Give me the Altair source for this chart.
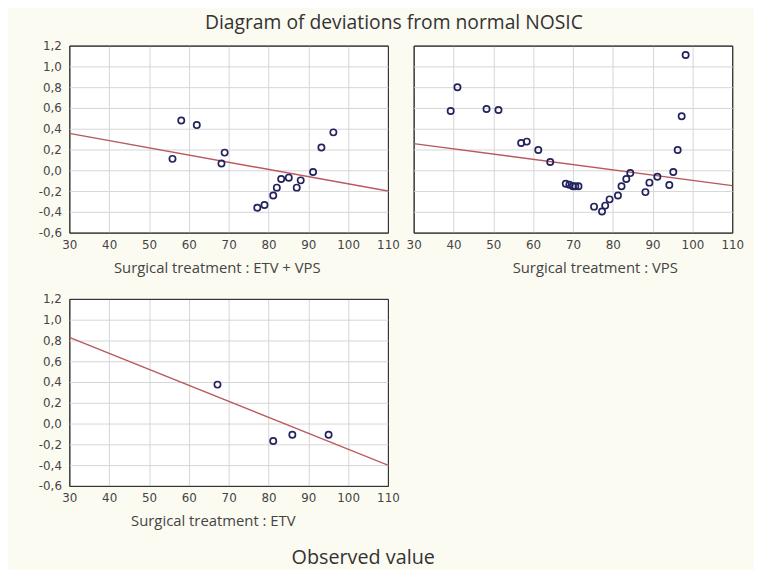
import altair as alt
import pandas as pd

# ---- data ----
line_x = [30, 110]

etv_vps_x = [55.9, 58.1, 62.0, 68.2, 69.0, 77.2, 79.0, 81.2, 82.1, 83.2, 85.1, 87.1, 88.1, 91.2, 93.3, 96.3]
etv_vps_y = [0.11, 0.48, 0.435, 0.066, 0.17, -0.36, -0.335, -0.243, -0.167, -0.084, -0.071, -0.167, -0.097, -0.017, 0.219, 0.365]
etv_vps_line_y = [0.355, -0.20]

vps_x = [39.3, 41.0, 48.3, 51.3, 57.0, 58.4, 61.3, 64.3, 68.2, 69.1, 70.0, 70.6, 71.4, 75.3, 77.3,
         78.1, 79.2, 81.3, 82.2, 83.4, 84.4, 88.2, 89.2, 91.2, 94.2, 95.2, 96.3, 97.3, 98.3]
vps_y = [0.57, 0.80, 0.59, 0.58, 0.263, 0.276, 0.196, 0.079, -0.13, -0.14, -0.154, -0.154, -0.154, -0.35, -0.396,
         -0.34, -0.28, -0.243, -0.154, -0.084, -0.027, -0.21, -0.119, -0.062, -0.141, -0.017, 0.196, 0.52, 1.11]
vps_line_y = [0.257, -0.148]

etv_x = [67.2, 81.2, 86.0, 95.1]
etv_y = [0.375, -0.168, -0.108, -0.108]
etv_line_y = [0.83, -0.40]

x_ticks = [30, 40, 50, 60, 70, 80, 90, 100, 110]
y_ticks = [-0.6, -0.4, -0.2, 0.0, 0.2, 0.4, 0.6, 0.8, 1.0, 1.2]

main_title = "Diagram of deviations from normal NOSIC"
bottom_title = "Observed value"

LABEL_FONT = "DejaVu Sans"
TITLE_FONT = "Open Sans"
PW, PH = 322, 189
GRID = "#d6d6d6"
FRAME = "#333333"


def panel(px, py, ly, title, title_x, show_y=True, extra=None):
    pts = pd.DataFrame({"x": px, "y": py})
    ln = pd.DataFrame({"x": line_x, "y": ly})
    xs = alt.Scale(domain=[30, 110], nice=False, zero=False)
    ys = alt.Scale(domain=[-0.6, 1.2], nice=False, zero=False)
    xaxis = alt.Axis(values=x_ticks, title=title, titleX=title_x, ticks=False,
                     labelPadding=7, titlePadding=10, labelFont=LABEL_FONT, labelFontSize=12,
                     labelColor="#444", titleFont=TITLE_FONT, titleFontSize=15,
                     titleFontWeight="normal", titleColor="#444",
                     gridColor={"condition": {"test": "datum.value <= 30 || datum.value >= 110",
                                              "value": FRAME}, "value": GRID},
                     domain=False, labelFlush=False, labelOverlap=False)
    yaxis = alt.Axis(values=y_ticks, format=".1f", title=None, labels=show_y, ticks=False,
                     labelPadding=8, labelFont=LABEL_FONT, labelFontSize=12, labelColor="#444",
                     gridColor={"condition": {"test": "datum.value <= -0.59 || datum.value >= 1.19",
                                              "value": FRAME}, "value": GRID},
                     domain=False, labelFlush=False, labelOverlap=False)
    x_enc = alt.X("x:Q", scale=xs, axis=xaxis)
    y_enc = alt.Y("y:Q", scale=ys, axis=yaxis)
    line = alt.Chart(ln).mark_line(color="#b8595c", strokeWidth=1.4, clip=True).encode(
        x=x_enc, y=y_enc
    )
    points = alt.Chart(pts).mark_point(shape="circle", filled=False, size=40,
                                       color="#22225e", strokeWidth=1.7, opacity=1).encode(
        x=x_enc, y=y_enc
    )
    layers = [line, points]
    if extra is not None:
        layers.append(extra)
    return alt.layer(*layers).properties(
        width=PW, height=PH, view=alt.ViewBackground(fill="white", stroke=FRAME, strokeWidth=1)
    )


observed = alt.Chart(pd.DataFrame({"t": [bottom_title]})).mark_text(
    font=TITLE_FONT, fontSize=20, color="#333"
).encode(text="t:N", x=alt.value(297), y=alt.value(262))

tl = panel(etv_vps_x, etv_vps_y, etv_vps_line_y, "Surgical treatment : ETV + VPS", 149)
tr = panel(vps_x, vps_y, vps_line_y, "Surgical treatment : VPS", 183, show_y=False)
bl = panel(etv_x, etv_y, etv_line_y, "Surgical treatment : ETV", 145, extra=observed)

chart = alt.concat(tl, tr, bl, columns=2, spacing=alt.RowColnumber(row=67, column=26),
                   bounds="flush").properties(
    title=alt.TitleParams(main_title, font=TITLE_FONT, fontSize=19.5, fontWeight="normal",
                          color="#333", anchor="middle", offset=6, dx=3),
    background="#fcfbf2",
    padding={"left": 30, "top": 2, "right": 10, "bottom": 0},
).configure(
    locale={"number": {"decimal": ",", "thousands": ".", "grouping": [3],
                       "currency": ["", ""], "minus": "-"}}
)

chart.save("out.html", embed_options={"renderer": "svg", "actions": False})
